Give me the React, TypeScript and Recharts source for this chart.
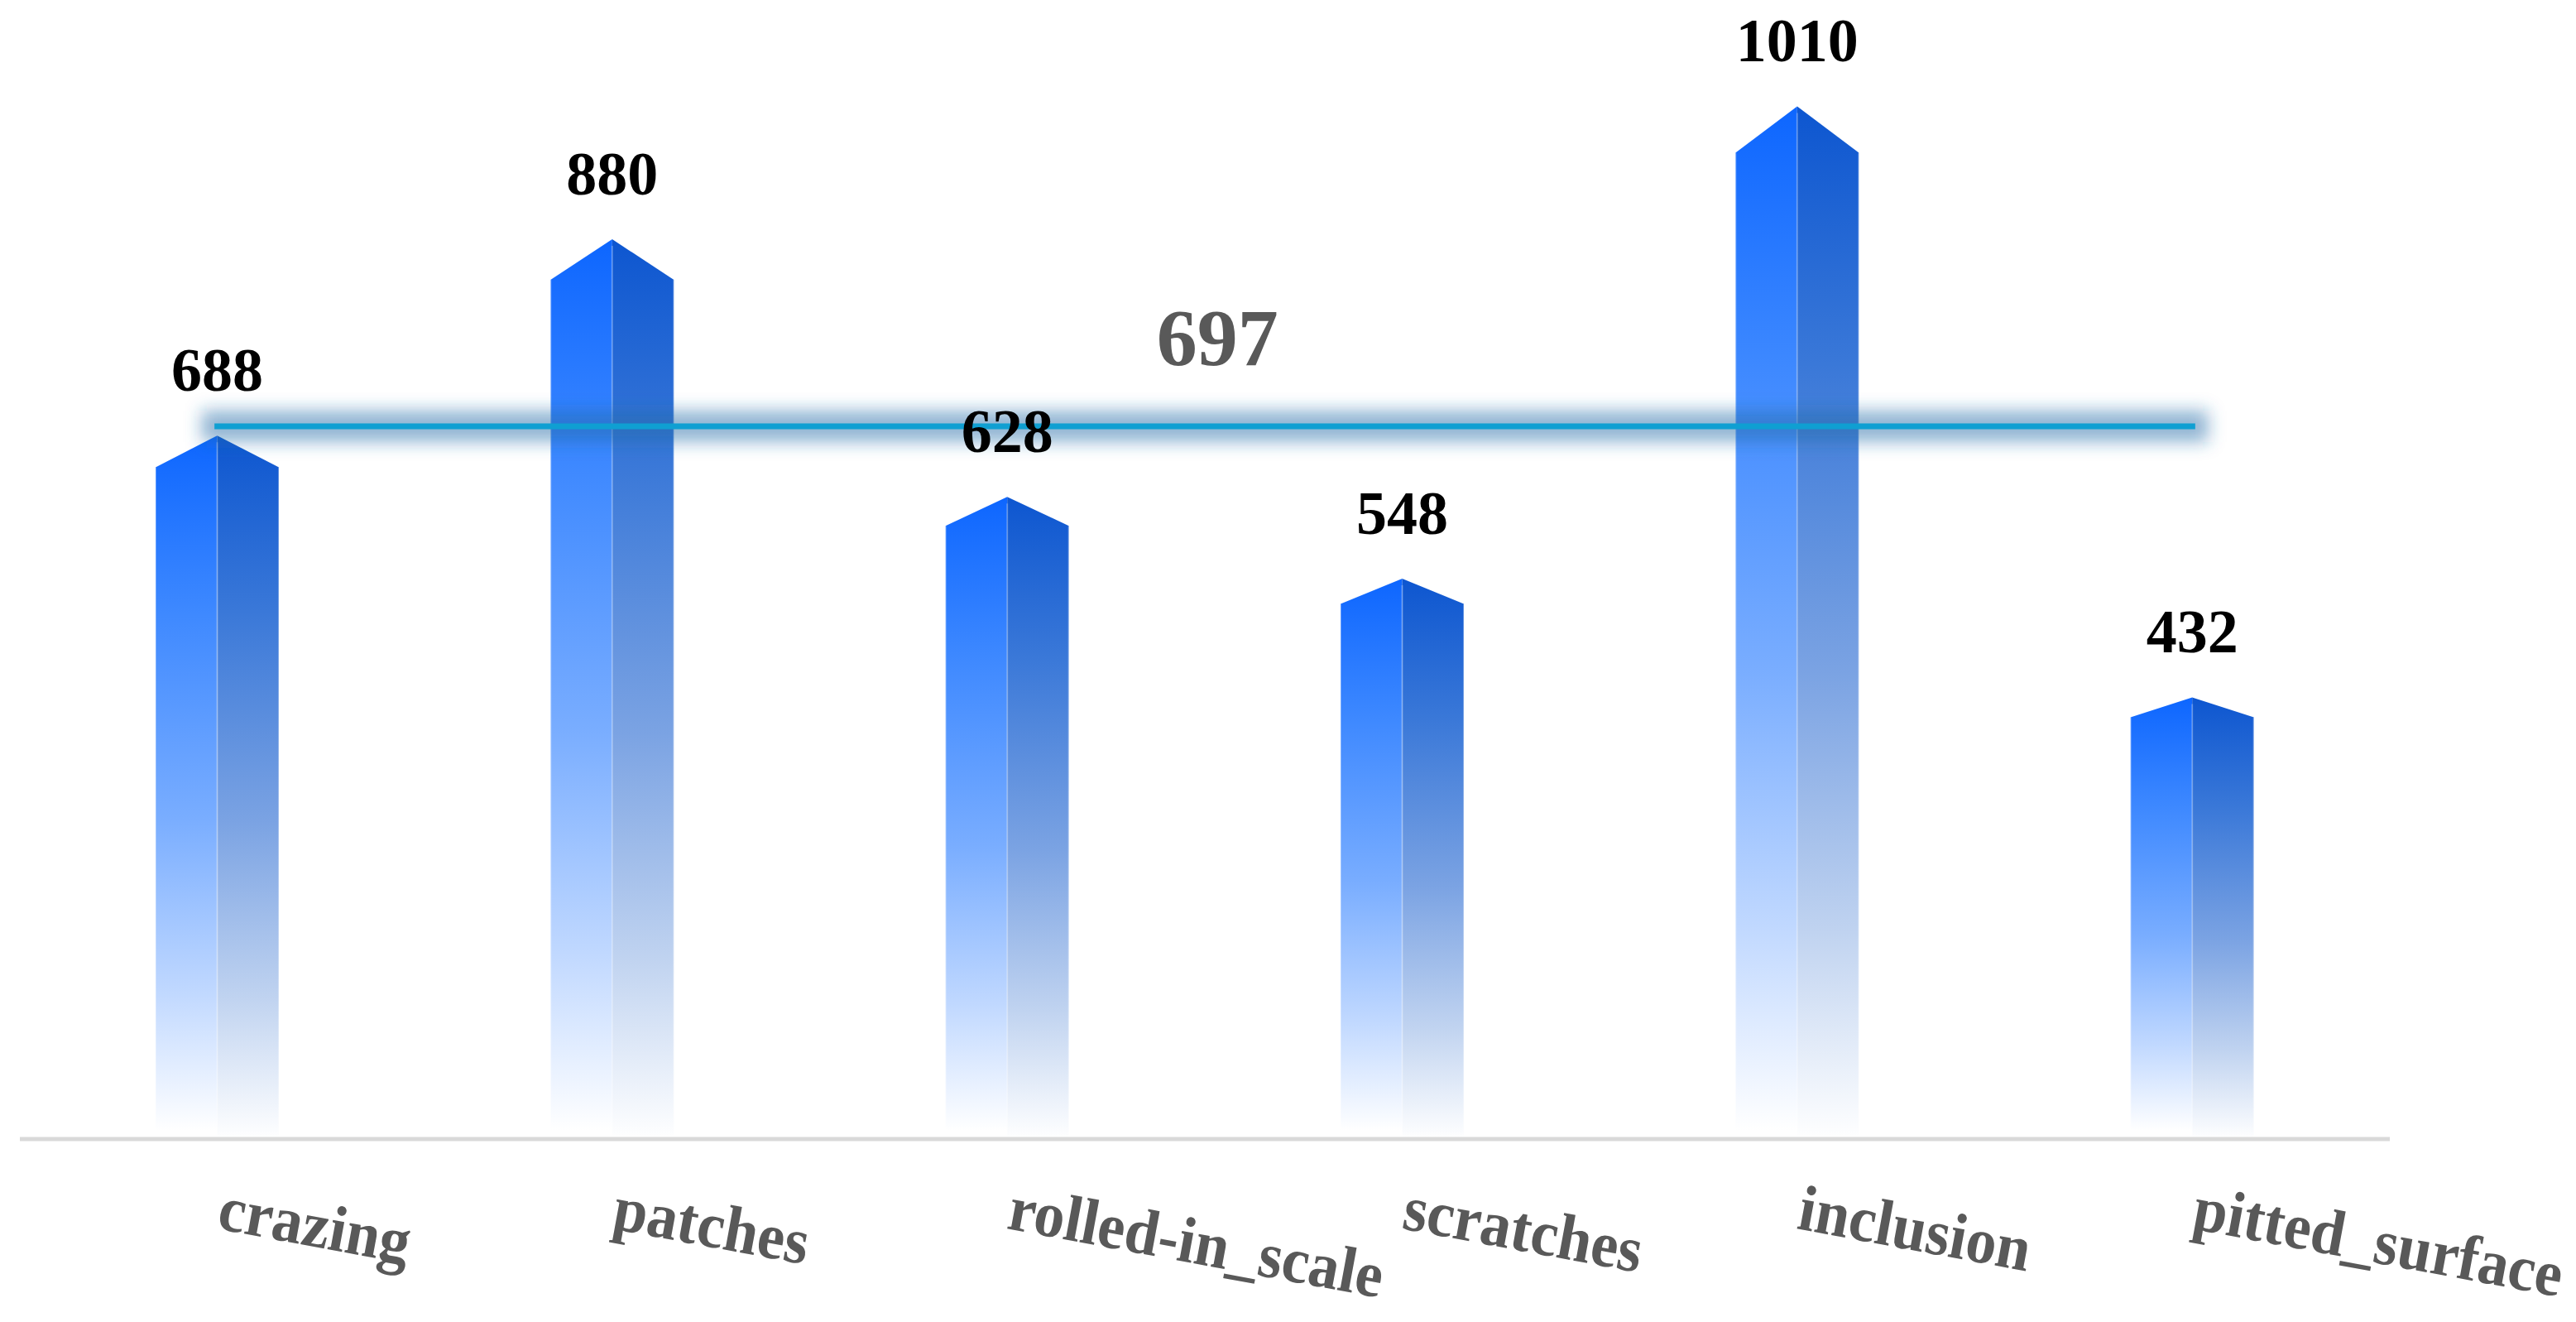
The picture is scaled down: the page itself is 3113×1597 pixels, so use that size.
import React from "react";
import { ComposedChart, Bar, Line, XAxis, YAxis, LabelList } from "recharts";

const categories = ["crazing", "patches", "rolled-in_scale", "scratches", "inclusion", "pitted_surface"];
const counts = [688, 880, 628, 548, 1010, 432];
const meanValues = [697, 697, 697, 697, 697, 697];
const meanLabel = "697";

const rows = categories.map((name, i) => ({ name, count: counts[i], mean: meanValues[i] }));

const SERIF = "'Liberation Serif', serif";

const Prism = (props: any) => {
  const { x, y, width, height } = props;
  const cx = x + width / 2;
  const shoulder = y + height * 0.045;
  const bottom = y + height;
  return (
    <g>
      <path d={`M${x},${bottom - 10}V${shoulder}L${cx},${y}V${bottom - 10}Z`} fill="url(#prismLeft)" />
      <path d={`M${cx},${bottom}V${y}L${x + width},${shoulder}V${bottom}Z`} fill="url(#prismRight)" />
      <line x1={cx} x2={cx} y1={y + 8} y2={bottom} stroke="#ffffff" strokeOpacity={0.25} strokeWidth={2} />
      <line x1={x} x2={x} y1={shoulder} y2={bottom} stroke="#ffffff" strokeOpacity={0.3} strokeWidth={2} />
      <line x1={x + width} x2={x + width} y1={shoulder} y2={bottom} stroke="#ffffff" strokeOpacity={0.3} strokeWidth={2} />
    </g>
  );
};

const CategoryTick = (props: any) => {
  const { x, y, payload } = props;
  const baseY = y + 100;
  return (
    <text
      transform={`translate(${x - 2} ${baseY}) rotate(10.5) scale(1 1.06)`}
      x={0}
      y={0}
      fontFamily={SERIF}
      fontWeight="bold"
      fontSize={74}
      fill="#595959"
      textAnchor="start"
    >
      {payload.value}
    </text>
  );
};

const MeanLabel = (props: any) => {
  const { x, y, index } = props;
  if (index !== 2) return null;
  return (
    <text x={x + 254} y={y - 74} fontFamily={SERIF} fontWeight="bold" fontSize={98} fill="#595959" textAnchor="middle">
      {meanLabel}
    </text>
  );
};

export default function App() {
  return (
    <div style={{ position: "absolute", left: 0, top: 0, width: 3113, height: 1597, background: "#ffffff" }}>
      <ComposedChart
        width={3113}
        height={1597}
        data={rows}
        margin={{ top: 0, right: 225, bottom: 0, left: 24 }}
      >
        <defs>
          <linearGradient id="prismLeft" x1="0" y1="0" x2="0" y2="1">
            <stop offset="0" stopColor="#0d66ff" />
            <stop offset="0.25" stopColor="#3d88ff" />
            <stop offset="0.55" stopColor="#79adff" />
            <stop offset="0.8" stopColor="#c0d8ff" />
            <stop offset="1" stopColor="#ffffff" />
          </linearGradient>
          <linearGradient id="prismRight" x1="0" y1="0" x2="0" y2="1">
            <stop offset="0" stopColor="#0d56d0" />
            <stop offset="0.25" stopColor="#3a78d8" />
            <stop offset="0.55" stopColor="#7ba3e3" />
            <stop offset="0.8" stopColor="#c0d3f0" />
            <stop offset="1" stopColor="#ffffff" />
          </linearGradient>
          <filter id="glow" filterUnits="userSpaceOnUse" x="0" y="300" width="3113" height="500">
            <feGaussianBlur stdDeviation="10" />
          </filter>
        </defs>
        <XAxis
          dataKey="name"
          interval={0}
          height={221}
          axisLine={{ stroke: "#d9d9d9", strokeWidth: 5 }}
          tickLine={false}
          tick={<CategoryTick />}
        />
        <YAxis hide domain={[0, 1114]} />
        <Bar dataKey="count" barSize={149} shape={<Prism />} isAnimationActive={false}>
          <LabelList
            dataKey="count"
            position="top"
            offset={54}
            fontFamily={SERIF}
            fontWeight="bold"
            fontSize={74}
            fill="#000000"
          />
        </Bar>
        <Line
          dataKey="mean"
          stroke="#1f6ba8"
          strokeOpacity={0.5}
          strokeWidth={38}
          strokeLinecap="square"
          filter="url(#glow)"
          dot={false}
          activeDot={false}
          legendType="none"
          isAnimationActive={false}
        />
        <Line
          dataKey="mean"
          stroke="#0f9fd2"
          strokeWidth={7}
          strokeLinecap="square"
          dot={false}
          activeDot={false}
          label={<MeanLabel />}
          isAnimationActive={false}
        />
      </ComposedChart>
    </div>
  );
}
